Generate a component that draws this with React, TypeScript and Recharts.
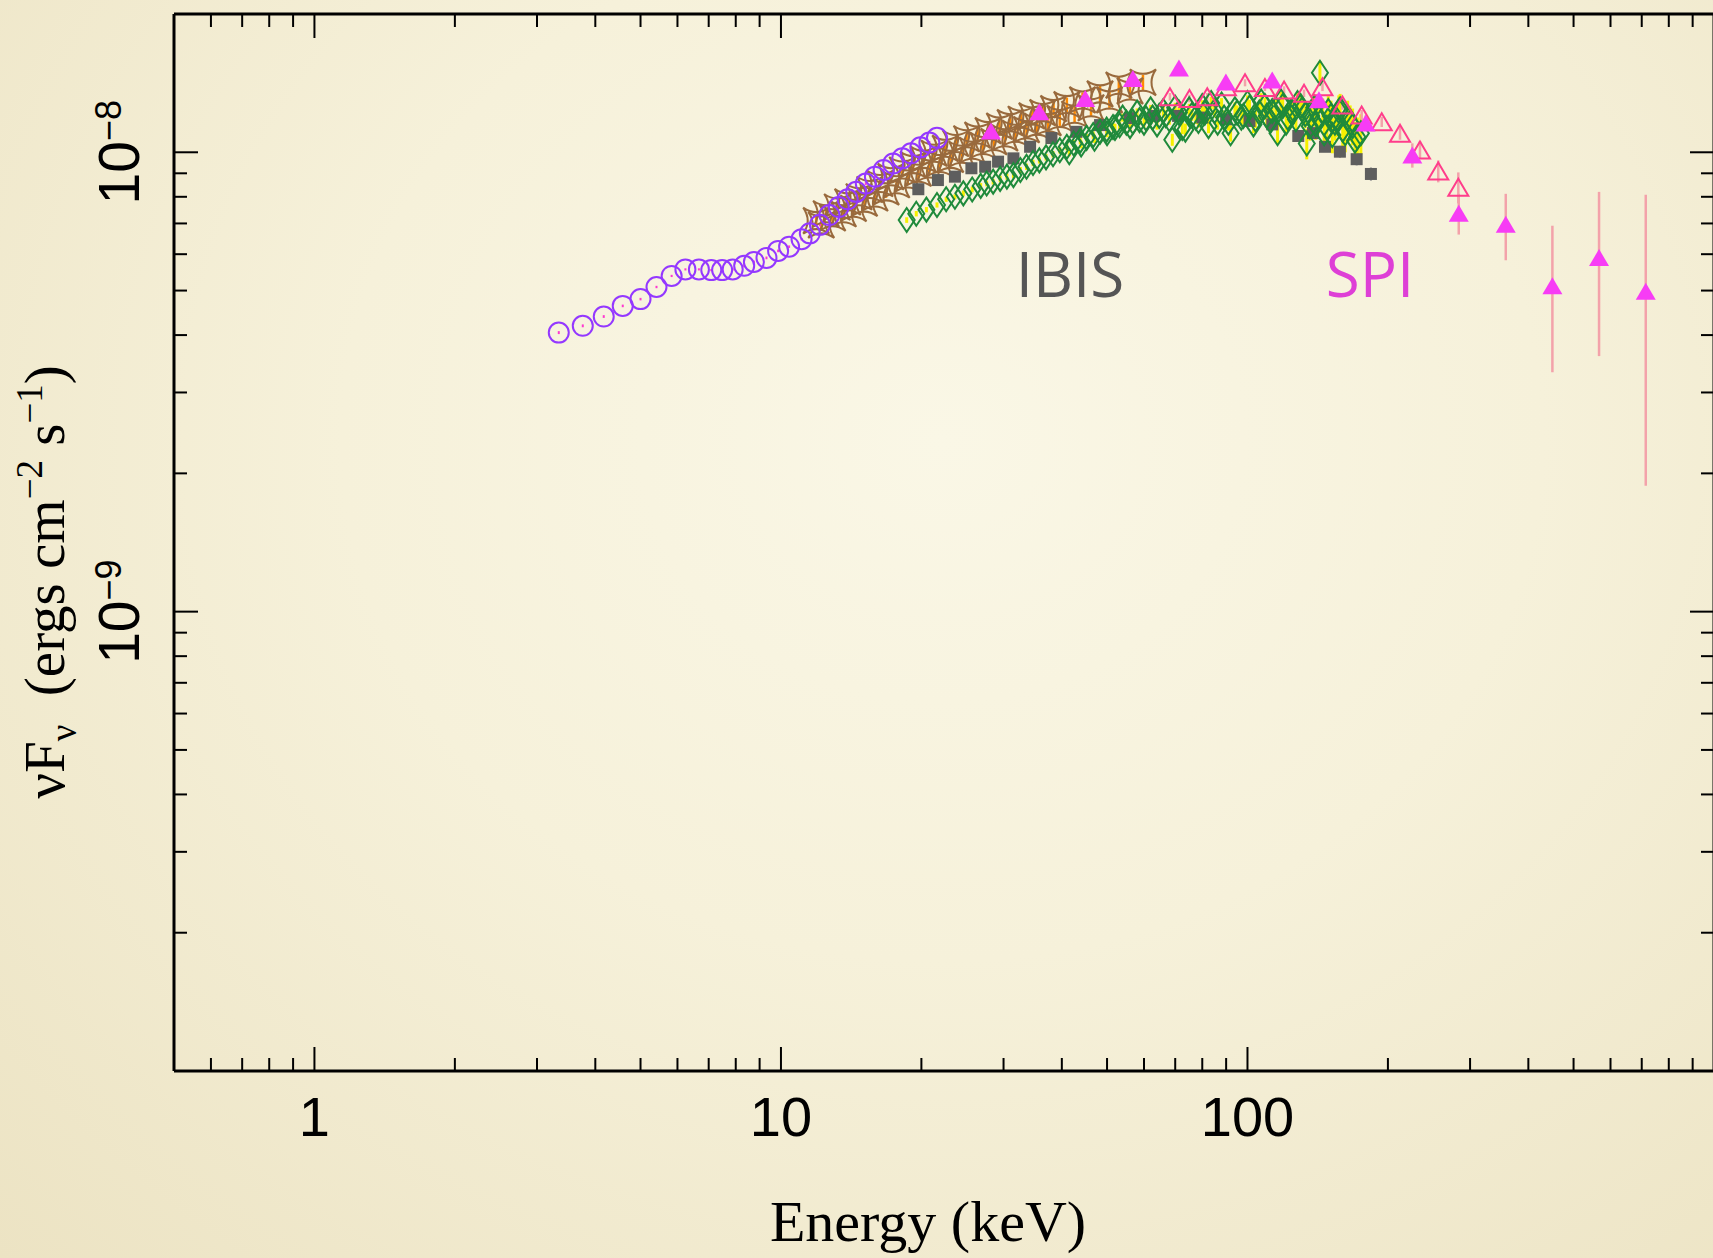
import { ScatterChart, Scatter, XAxis, YAxis, ErrorBar } from 'recharts';

// Energies in keV, nuFnu in units of 1e-9 erg cm^-2 s^-1

// JEM-X
const jemxEnergy = [3.34, 3.76, 4.17, 4.58, 5.0, 5.41, 5.83, 6.24, 6.67, 7.09, 7.48, 7.88, 8.34, 8.75, 9.31, 9.86, 10.41, 11.07, 11.53, 12.12, 12.7, 13.3, 13.9, 14.5, 15.2, 15.9, 16.6, 17.4, 18.2, 19.0, 19.9, 20.8, 21.6];
const jemxFlux = [4.05, 4.19, 4.39, 4.63, 4.79, 5.09, 5.38, 5.56, 5.56, 5.54, 5.54, 5.56, 5.66, 5.77, 5.89, 6.1, 6.23, 6.47, 6.66, 6.95, 7.3, 7.6, 7.9, 8.2, 8.55, 8.85, 9.15, 9.45, 9.7, 9.95, 10.25, 10.5, 10.75];
const jemxErr = [0.03, 0.03, 0.03, 0.03, 0.03, 0.03, 0.03, 0.03, 0.03, 0.03, 0.03, 0.03, 0.04, 0.04, 0.04, 0.04, 0.04, 0.04, 0.05, 0.05, 0.05, 0.05, 0.05, 0.05, 0.06, 0.06, 0.06, 0.06, 0.07, 0.07, 0.07, 0.08, 0.08];

// ISGRI, first set (stars)
const starEnergy = [11.9, 12.2, 12.5, 12.9, 13.2, 13.6, 13.9, 14.3, 14.7, 15.1, 15.5, 15.9, 16.3, 16.8, 17.2, 17.7, 18.2, 18.7, 19.2, 19.7, 20.2, 20.8, 21.3, 21.9, 22.5, 23.1, 23.7, 24.4, 25.0, 25.7, 26.4, 27.1, 27.8, 28.6, 29.4, 30.2, 31.0, 31.8, 32.7, 33.6, 34.5, 35.4, 36.4, 37.4, 38.4, 39.6, 41.0, 42.6, 44.3, 46.2, 48.3, 50.6, 53.0, 56.0, 59.7];
const starFlux = [7.1, 6.95, 7.35, 7.2, 7.6, 7.35, 7.8, 7.55, 8.0, 7.75, 8.3, 7.95, 8.55, 8.2, 8.85, 8.5, 9.15, 8.75, 9.4, 9.0, 9.65, 9.2, 9.95, 9.45, 10.2, 9.65, 10.45, 9.9, 10.7, 10.1, 10.9, 10.35, 11.15, 10.55, 11.4, 10.75, 11.6, 11.0, 11.8, 11.2, 12.0, 11.4, 12.2, 11.6, 12.45, 11.85, 12.7, 12.1, 13.0, 12.5, 13.4, 13.0, 14.0, 13.6, 14.2];
const starErr = [0.2, 0.2, 0.2, 0.2, 0.2, 0.2, 0.2, 0.22, 0.22, 0.22, 0.22, 0.24, 0.24, 0.24, 0.25, 0.25, 0.25, 0.26, 0.26, 0.26, 0.27, 0.27, 0.28, 0.28, 0.28, 0.3, 0.3, 0.3, 0.3, 0.32, 0.32, 0.32, 0.34, 0.34, 0.34, 0.35, 0.35, 0.36, 0.36, 0.38, 0.38, 0.4, 0.4, 0.42, 0.42, 0.44, 0.46, 0.48, 0.5, 0.52, 0.55, 0.6, 0.65, 0.6, 0.55];

// ISGRI, second set (squares)
const squareEnergy = [19.7, 21.7, 23.6, 25.6, 27.4, 29.2, 31.5, 34.2, 38.0, 43.0, 48.3, 56.0, 63, 71, 80, 90, 101, 113, 128.5, 138.2, 146.6, 157.8, 171.4, 183.9];
const squareFlux = [8.31, 8.7, 8.85, 9.23, 9.3, 9.54, 9.7, 10.28, 10.74, 11.08, 11.46, 11.87, 12.0, 12.0, 11.9, 11.8, 11.7, 11.5, 10.85, 11.01, 10.28, 10.03, 9.66, 8.97];
const squareErr = [0.15, 0.15, 0.15, 0.15, 0.15, 0.15, 0.15, 0.15, 0.15, 0.15, 0.15, 0.15, 0.2, 0.2, 0.2, 0.2, 0.2, 0.2, 0.25, 0.25, 0.25, 0.3, 0.3, 0.3];

// ISGRI, third set (diamonds)
const diamondEnergy = [18.6, 19.5, 20.5, 21.6, 22.6, 23.6, 24.6, 25.7, 26.8, 27.6, 28.5, 29.5, 30.5, 31.5, 32.6, 33.6, 34.7, 35.8, 37.0, 38.3, 39.6, 41.0, 42.4, 43.8, 45.2, 46.7, 48.3, 49.9, 51.5, 53.2, 55.0, 56.8, 58.7, 60.6, 62.6, 64.7, 66.8, 69.0, 71.3, 73.6, 76.0, 78.5, 81.0, 83.6, 86.3, 89.1, 92.0, 95.0, 98.0, 101, 104, 107, 110, 113, 116, 119, 122, 125, 128, 131, 134, 137, 140, 143, 146, 149, 152, 155, 158, 162, 166, 170, 175];
const diamondFlux = [7.12, 7.35, 7.5, 7.68, 7.9, 8.0, 8.14, 8.3, 8.45, 8.55, 8.63, 8.75, 8.85, 8.92, 9.15, 9.3, 9.48, 9.6, 9.75, 9.9, 10.1, 10.28, 10.45, 10.6, 10.75, 10.9, 11.08, 11.2, 11.35, 11.45, 11.6, 11.65, 11.75, 11.85, 11.9, 12.0, 12.05, 10.65, 12.2, 11.2, 12.05, 11.7, 12.2, 12.8, 11.6, 11.9, 11.0, 12.2, 12.0, 12.5, 11.8, 12.9, 12.0, 12.3, 11.0, 12.6, 11.9, 12.2, 12.8, 12.4, 10.45, 12.0, 11.5, 14.9, 11.0, 12.3, 10.9, 11.8, 12.4, 11.0, 11.6, 10.6, 11.0];
const diamondErr = [0.1, 0.1, 0.1, 0.1, 0.1, 0.1, 0.12, 0.12, 0.12, 0.12, 0.12, 0.14, 0.14, 0.14, 0.14, 0.15, 0.15, 0.15, 0.16, 0.16, 0.16, 0.18, 0.18, 0.18, 0.2, 0.2, 0.2, 0.22, 0.22, 0.22, 0.25, 0.25, 0.25, 0.28, 0.28, 0.3, 0.3, 0.32, 0.32, 0.35, 0.35, 0.38, 0.38, 0.4, 0.4, 0.42, 0.45, 0.45, 0.48, 0.5, 0.5, 0.55, 0.55, 0.6, 0.6, 0.65, 0.65, 0.7, 0.7, 0.75, 0.8, 0.8, 0.85, 0.9, 0.9, 0.95, 0.95, 1.0, 1.0, 1.0, 1.05, 1.05, 1.1];

// ISGRI, fourth set (diamonds, high-energy half)
const diamond2Energy = [41.5, 44.0, 47.0, 50.0, 52, 54, 56, 58, 60, 62, 64, 66, 68, 70, 72.5, 75, 77.5, 80, 82.5, 85, 88, 91, 94, 97, 100, 103, 106, 109, 112, 115, 118, 121, 124, 127, 130, 133, 136, 139, 142, 145, 148, 151, 154, 157, 160, 164, 168, 172];
const diamond2Flux = [10.0, 10.4, 10.7, 11.0, 11.3, 11.9, 11.4, 12.2, 11.6, 12.4, 11.5, 12.3, 11.8, 12.5, 11.3, 12.4, 11.9, 12.6, 11.4, 12.3, 12.7, 11.6, 12.4, 11.9, 12.8, 11.5, 12.2, 12.6, 11.7, 12.4, 12.9, 11.6, 12.3, 11.8, 12.6, 12.1, 11.4, 12.5, 11.9, 12.2, 11.3, 12.0, 11.6, 12.3, 11.2, 11.9, 11.4, 10.8];
const diamond2Err = [0.2, 0.2, 0.22, 0.22, 0.24, 0.24, 0.26, 0.26, 0.28, 0.28, 0.3, 0.3, 0.32, 0.32, 0.35, 0.35, 0.38, 0.38, 0.4, 0.4, 0.42, 0.45, 0.45, 0.48, 0.5, 0.5, 0.55, 0.55, 0.6, 0.6, 0.65, 0.65, 0.7, 0.7, 0.75, 0.8, 0.8, 0.85, 0.9, 0.9, 0.95, 0.95, 1.0, 1.0, 1.0, 1.05, 1.05, 1.1];

// SPI, first set (open triangles)
const spiOpenEnergy = [68.2, 75.1, 82.0, 89.9, 98.8, 109.0, 119.8, 132.2, 144.8, 159.8, 175.7, 194.0, 212.3, 234.3, 256.4, 283.1];
const spiOpenFlux = [13.21, 13.1, 13.21, 13.89, 14.17, 13.84, 13.67, 13.44, 13.89, 12.68, 12.06, 11.65, 11.0, 10.12, 9.1, 8.39];
const spiOpenErr = [0.25, 0.25, 0.25, 0.25, 0.25, 0.25, 0.25, 0.25, 0.3, 0.3, 0.3, 0.3, 0.35, 0.45, 0.5, 0.65];

// SPI, second set (filled triangles)
const spiEnergy = [28.2, 35.8, 44.9, 56.8, 71.3, 89.9, 113, 142.3, 179.2, 225.6, 283.7, 357.8, 450.4, 567, 714];
const spiFlux = [11.12, 12.26, 13.1, 14.47, 15.26, 14.23, 14.37, 13.02, 11.58, 9.86, 7.37, 6.97, 5.12, 5.9, 4.98];
const spiErr = [0.25, 0.25, 0.25, 0.3, 0.3, 0.3, 0.3, 0.35, 0.45, 0.6, 0.75, 1.15, 1.8, 2.3, 3.1];

const energyTicks = [0.6, 0.7, 0.8, 0.9, 1, 2, 3, 4, 5, 6, 7, 8, 9, 10, 20, 30, 40, 50, 60, 70, 80, 90, 100, 200, 300, 400, 500, 600, 700, 800, 900];
const fluxTicks = [0.2, 0.3, 0.4, 0.5, 0.6, 0.7, 0.8, 0.9, 1, 2, 3, 4, 5, 6, 7, 8, 9, 10];
const FLUX_EXP = -9;

const W = 1713;
const H = 1258;
const PLOT_LEFT = 174;
const PLOT_TOP = 14;
const PLOT_RIGHT = 1714;
const PLOT_BOTTOM = 1071;

const TICK_MAJOR = 24;
const TICK_MINOR = 13;
const SANS = "'Liberation Sans', Arial, Helvetica, sans-serif";
const SERIF = "'Liberation Serif', 'Times New Roman', serif";

const rows = (e: number[], f: number[], err: number[]) =>
  e.map((x, i) => ({ e: x, f: f[i], err: err[i] }));

const isDecade = (v: number) => Math.abs(Math.log10(v) - Math.round(Math.log10(v))) < 1e-6;
const tickLen = (v: number) => (isDecade(v) ? TICK_MAJOR : TICK_MINOR);

function BottomTick({ x, y, payload }: any) {
  const v = payload.value;
  return (
    <g>
      <line x1={x} x2={x} y1={y} y2={y - tickLen(v)} stroke="#000" strokeWidth={2} />
      {isDecade(v) && (
        <text x={x} y={y + 65} textAnchor="middle" fontFamily={SANS} fontSize={56} fill="#000">
          {String(v)}
        </text>
      )}
    </g>
  );
}

function TopTick({ x, y, payload }: any) {
  return <line x1={x} x2={x} y1={y} y2={y + tickLen(payload.value)} stroke="#000" strokeWidth={2} />;
}

function LeftTick({ x, y, payload }: any) {
  const v = payload.value;
  const exp = Math.round(Math.log10(v)) + FLUX_EXP;
  const bx = x - 35;
  return (
    <g>
      <line x1={x} x2={x + tickLen(v)} y1={y} y2={y} stroke="#000" strokeWidth={2} />
      {isDecade(v) && (
        <text transform={`rotate(-90 ${bx} ${y})`} x={bx} y={y} textAnchor="middle" fontFamily={SANS} fontSize={57} fill="#000">
          10
          <tspan dy={-18} fontSize={36}>{`\u2212${Math.abs(exp)}`}</tspan>
        </text>
      )}
    </g>
  );
}

function RightTick({ x, y, payload }: any) {
  return <line x1={x} x2={x - tickLen(payload.value)} y1={y} y2={y} stroke="#000" strokeWidth={2} />;
}

// marker shapes
function Ring({ cx, cy }: any) {
  return <circle cx={cx} cy={cy} r={10} fill="none" stroke="#9438FF" strokeWidth={2} />;
}

function PinchedSquare({ cx, cy }: any) {
  const h = 13;
  const c = 4;
  const d =
    `M${cx - h},${cy - h} Q${cx},${cy - c} ${cx + h},${cy - h} ` +
    `Q${cx + c},${cy} ${cx + h},${cy + h} ` +
    `Q${cx},${cy + c} ${cx - h},${cy + h} ` +
    `Q${cx - c},${cy} ${cx - h},${cy - h} Z`;
  return <path d={d} fill="none" stroke="#996A3D" strokeWidth={2} />;
}

function Block({ cx, cy }: any) {
  return <rect x={cx - 6} y={cy - 6} width={12} height={12} fill="#5E5E5E" />;
}

function TallDiamond({ cx, cy }: any) {
  const d = `M${cx},${cy - 12} L${cx + 8},${cy} L${cx},${cy + 12} L${cx - 8},${cy} Z`;
  return <path d={d} fill="none" stroke="#1F8A3B" strokeWidth={2} />;
}

const triPath = (cx: number, cy: number) =>
  `M${cx},${cy - 8.5} L${cx + 10},${cy + 8.5} L${cx - 10},${cy + 8.5} Z`;

function OpenTriangle({ cx, cy }: any) {
  return <path d={triPath(cx, cy)} fill="none" stroke="#FF3D8B" strokeWidth={2} />;
}

function SolidTriangle({ cx, cy }: any) {
  return <path d={triPath(cx, cy)} fill="#F73CF5" />;
}

export default function App() {
  const axisLine = { stroke: '#000', strokeWidth: 3 };
  return (
    <div
      style={{
        position: 'relative',
        width: W,
        height: H,
        overflow: 'hidden',
        background: 'radial-gradient(ellipse at 55% 35%, #FAF7E6 0%, #F6F1DA 45%, #ECE3C3 100%)',
      }}
    >
      <style>{'body{margin:0}'}</style>
      <ScatterChart width={PLOT_RIGHT + 1} height={H} margin={{ top: 0, right: 0, bottom: 0, left: 0 }}>
        <XAxis
          xAxisId="bottom"
          dataKey="e"
          type="number"
          scale="log"
          domain={[0.5, 1000]}
          allowDataOverflow
          ticks={energyTicks}
          interval={0}
          height={H - PLOT_BOTTOM}
          tickSize={0}
          tickMargin={0}
          tickLine={false}
          axisLine={axisLine}
          tick={<BottomTick />}
        />
        <XAxis
          xAxisId="top"
          orientation="top"
          dataKey="e"
          type="number"
          scale="log"
          domain={[0.5, 1000]}
          allowDataOverflow
          ticks={energyTicks}
          interval={0}
          height={PLOT_TOP}
          tickSize={0}
          tickMargin={0}
          tickLine={false}
          axisLine={axisLine}
          tick={<TopTick />}
        />
        <YAxis
          yAxisId="left"
          dataKey="f"
          type="number"
          scale="log"
          domain={[0.1, 20]}
          allowDataOverflow
          ticks={fluxTicks}
          interval={0}
          width={PLOT_LEFT}
          tickSize={0}
          tickMargin={0}
          tickLine={false}
          axisLine={axisLine}
          tick={<LeftTick />}
        />
        <YAxis
          yAxisId="right"
          orientation="right"
          dataKey="f"
          type="number"
          scale="log"
          domain={[0.1, 20]}
          allowDataOverflow
          ticks={fluxTicks}
          interval={0}
          width={1}
          tickSize={0}
          tickMargin={0}
          tickLine={false}
          axisLine={axisLine}
          tick={<RightTick />}
        />

        <Scatter xAxisId="bottom" yAxisId="left" data={rows(starEnergy, starFlux, starErr)} shape={PinchedSquare} isAnimationActive={false}>
          <ErrorBar dataKey="err" direction="y" width={0} stroke="#FF8A00" strokeWidth={2.5} isAnimationActive={false} />
        </Scatter>
        <Scatter xAxisId="bottom" yAxisId="left" data={rows(jemxEnergy, jemxFlux, jemxErr)} shape={Ring} isAnimationActive={false}>
          <ErrorBar dataKey="err" direction="y" width={0} stroke="#FF38D0" strokeWidth={2} isAnimationActive={false} />
        </Scatter>
        <Scatter xAxisId="bottom" yAxisId="left" data={rows(squareEnergy, squareFlux, squareErr)} shape={Block} isAnimationActive={false}>
          <ErrorBar dataKey="err" direction="y" width={0} stroke="#9A9A9A" strokeWidth={2} isAnimationActive={false} />
        </Scatter>
        <Scatter xAxisId="bottom" yAxisId="left" data={rows(diamondEnergy, diamondFlux, diamondErr)} shape={TallDiamond} isAnimationActive={false}>
          <ErrorBar dataKey="err" direction="y" width={0} stroke="#F5F000" strokeWidth={3} isAnimationActive={false} />
        </Scatter>
        <Scatter xAxisId="bottom" yAxisId="left" data={rows(diamond2Energy, diamond2Flux, diamond2Err)} shape={TallDiamond} isAnimationActive={false}>
          <ErrorBar dataKey="err" direction="y" width={0} stroke="#F5F000" strokeWidth={3} isAnimationActive={false} />
        </Scatter>
        <Scatter xAxisId="bottom" yAxisId="left" data={rows(spiOpenEnergy, spiOpenFlux, spiOpenErr)} shape={OpenTriangle} isAnimationActive={false}>
          <ErrorBar dataKey="err" direction="y" width={0} stroke="#F3A2AA" strokeWidth={2.5} isAnimationActive={false} />
        </Scatter>
        <Scatter xAxisId="bottom" yAxisId="left" data={rows(spiEnergy, spiFlux, spiErr)} shape={SolidTriangle} isAnimationActive={false}>
          <ErrorBar dataKey="err" direction="y" width={0} stroke="#F3A2AA" strokeWidth={2.5} isAnimationActive={false} />
        </Scatter>
      </ScatterChart>

      <svg width={W} height={H} style={{ position: 'absolute', left: 0, top: 0, pointerEvents: 'none' }}>
        <text x={928} y={1241} textAnchor="middle" fontFamily={SERIF} fontSize={58} fill="#000">
          Energy (keV)
        </text>
        <text transform="rotate(-90 64 582)" x={64} y={582} textAnchor="middle" fontFamily={SERIF} fontSize={57} fill="#000">
          {'\u03bdF'}
          <tspan dy={12} fontSize={37}>{'\u03bd'}</tspan>
          <tspan dy={-12}>{'\u00a0\u00a0(ergs cm'}</tspan>
          <tspan dy={-22} fontSize={37}>{'\u22122'}</tspan>
          <tspan dy={22}>{'\u00a0s'}</tspan>
          <tspan dy={-22} fontSize={37}>{'\u22121'}</tspan>
          <tspan dy={22}>{')'}</tspan>
        </text>
        <text x={1070} y={297} textAnchor="middle" fontFamily="'Open Sans', 'Noto Sans', sans-serif" fontSize={62} fill="#555555">
          IBIS
        </text>
        <text x={1370} y={297} textAnchor="middle" fontFamily="'Open Sans', 'Noto Sans', sans-serif" fontSize={62} fill="#DE3FD6">
          SPI
        </text>
      </svg>
    </div>
  );
}
